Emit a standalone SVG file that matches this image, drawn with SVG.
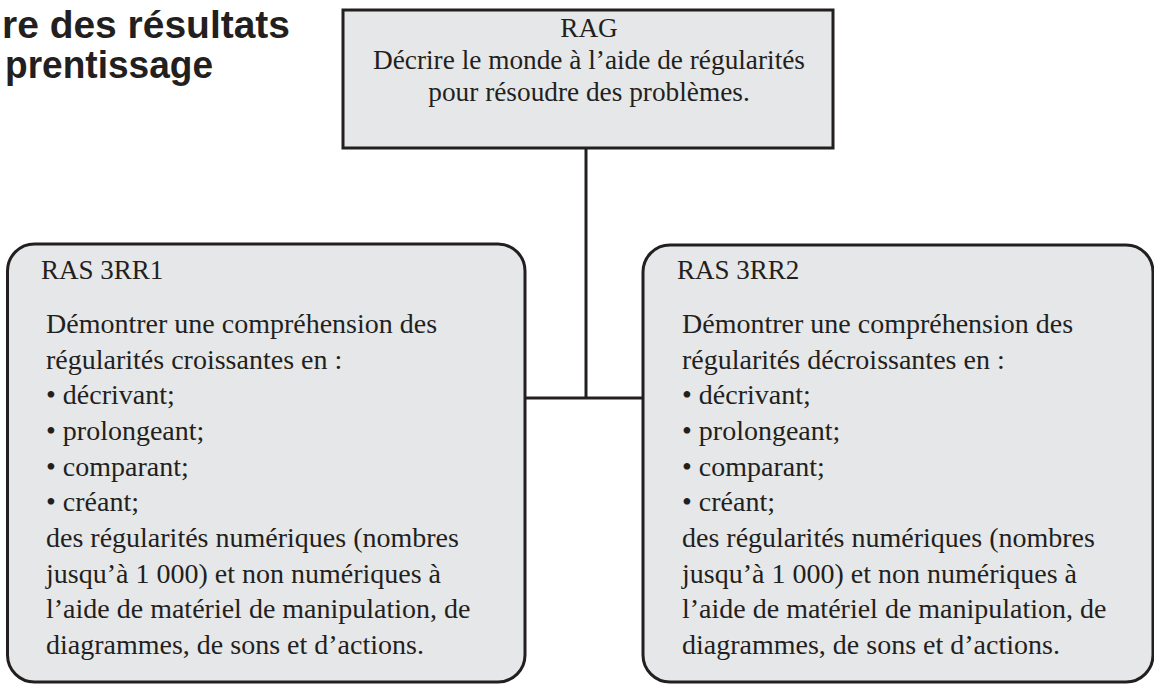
<svg xmlns="http://www.w3.org/2000/svg" width="1154" height="684" viewBox="0 0 1154 684">
<style>
.box{fill:#e6e7e8;stroke:#231f20;stroke-width:3}
.t{font-family:"Liberation Serif",serif;font-size:28px;fill:#231f20}
.hd{font-size:27px}
.r{font-size:27.3px}
.c{text-anchor:middle}
.h{font-family:"Liberation Sans",Arial,sans-serif;font-weight:bold;font-size:39px;fill:#231f20}
.ln{stroke:#231f20;stroke-width:3;fill:none}
</style>
<rect width="1154" height="684" fill="#ffffff"/>
<g id="title">
<text class="h" x="2" y="38" textLength="288" lengthAdjust="spacingAndGlyphs">re des résultats</text>
<text class="h" x="5" y="78" textLength="208" lengthAdjust="spacingAndGlyphs">prentissage</text>
</g>
<g id="connectors">
<line class="ln" x1="586" y1="148" x2="586" y2="398"/>
<line class="ln" x1="525" y1="398" x2="643" y2="398"/>
</g>
<g id="rag">
<rect class="box" x="343" y="10" width="490" height="138"/>
<text class="t r c" x="589" y="37">RAG</text>
<text class="t r c" x="589" y="69">Décrire le monde à l’aide de régularités</text>
<text class="t r c" x="589" y="101">pour résoudre des problèmes.</text>
</g>
<g id="ras1">
<rect class="box" x="7.5" y="244" width="517.5" height="438" rx="27"/>
<text class="t hd" x="41" y="279">RAS 3RR1</text>
<text class="t" x="46" y="333">Démontrer une compréhension des</text>
<text class="t" x="46" y="369">régularités croissantes en :</text>
<text class="t" x="46" y="404">• décrivant;</text>
<text class="t" x="46" y="440">• prolongeant;</text>
<text class="t" x="46" y="476">• comparant;</text>
<text class="t" x="46" y="511">• créant;</text>
<text class="t" x="46" y="547">des régularités numériques (nombres</text>
<text class="t" x="46" y="583">jusqu’à 1 000) et non numériques à</text>
<text class="t" x="46" y="618">l’aide de matériel de manipulation, de</text>
<text class="t" x="46" y="654">diagrammes, de sons et d’actions.</text>
</g>
<g id="ras2">
<rect class="box" x="643" y="245" width="510" height="437" rx="27"/>
<text class="t hd" x="677" y="279">RAS 3RR2</text>
<text class="t" x="682" y="333">Démontrer une compréhension des</text>
<text class="t" x="682" y="369">régularités décroissantes en :</text>
<text class="t" x="682" y="404">• décrivant;</text>
<text class="t" x="682" y="440">• prolongeant;</text>
<text class="t" x="682" y="476">• comparant;</text>
<text class="t" x="682" y="511">• créant;</text>
<text class="t" x="682" y="547">des régularités numériques (nombres</text>
<text class="t" x="682" y="583">jusqu’à 1 000) et non numériques à</text>
<text class="t" x="682" y="618">l’aide de matériel de manipulation, de</text>
<text class="t" x="682" y="654">diagrammes, de sons et d’actions.</text>
</g>
</svg>
